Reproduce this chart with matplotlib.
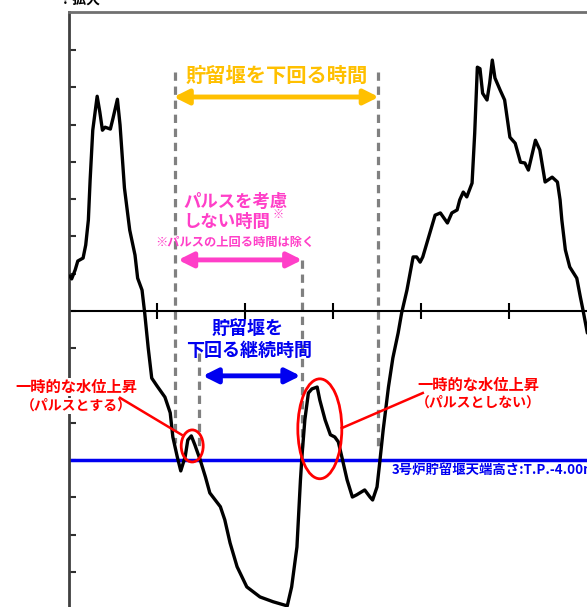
import matplotlib
matplotlib.use("Agg")
import matplotlib.pyplot as plt
from matplotlib.patches import Ellipse

plt.rcParams['font.family'] = ['Noto Sans CJK JP', 'DejaVu Sans']

# water level curve (time in axis units, level in T.P. m)
t = [0.01, 0.03, 0.07, 0.10, 0.16, 0.19, 0.22, 0.23, 0.24, 0.27, 0.32, 0.35, 0.38, 0.41,
     0.47, 0.50, 0.55, 0.58, 0.63, 0.69, 0.75, 0.78, 0.83, 0.86, 0.90, 0.94, 1.00, 1.09,
     1.15, 1.18, 1.23, 1.27, 1.32, 1.35, 1.39, 1.43, 1.49, 1.55, 1.60, 1.72, 1.77, 1.83,
     1.91, 2.02, 2.17, 2.32, 2.48, 2.53, 2.59, 2.63, 2.65, 2.68, 2.72, 2.76, 2.82, 2.85,
     2.91, 2.97, 3.02, 3.06, 3.10, 3.16, 3.22, 3.27, 3.36, 3.42, 3.45, 3.50, 3.53, 3.57,
     3.63, 3.68, 3.74, 3.78, 3.84, 3.91, 3.95, 3.99, 4.02, 4.10, 4.16, 4.22, 4.30, 4.35,
     4.41, 4.44, 4.48, 4.52, 4.58, 4.61, 4.64, 4.67, 4.70, 4.75, 4.78, 4.81, 4.84, 4.90,
     4.95, 5.01, 5.07, 5.13, 5.18, 5.22, 5.30, 5.35, 5.41, 5.49, 5.55, 5.58, 5.60, 5.64,
     5.69, 5.77, 5.81, 5.84, 5.89]
level = [0.94, 0.86, 1.10, 1.34, 1.42, 1.77, 2.44, 2.98, 3.51, 4.85, 5.76, 5.34, 4.85, 4.93,
         4.88, 5.17, 5.68, 4.99, 3.30, 2.17, 1.50, 0.88, 0.56, -0.05, -0.99, -1.80, -2.01, -2.31,
         -2.73, -3.38, -3.91, -4.29, -3.91, -3.46, -3.35, -3.59, -3.99, -4.45, -4.88, -5.25, -5.60, -6.22,
         -6.86, -7.40, -7.67, -7.80, -7.91, -7.40, -6.33, -4.53, -3.81, -2.92, -2.20, -2.09, -2.04, -2.39,
         -2.92, -3.32, -3.38, -3.51, -3.91, -4.53, -4.99, -4.93, -4.80, -4.99, -5.07, -4.72, -4.08, -3.19,
         -2.04, -1.26, -0.59, -0.05, 0.56, 1.45, 1.45, 1.31, 1.45, 2.09, 2.57, 2.63, 2.36, 2.63,
         2.71, 2.98, 3.19, 3.06, 3.43, 4.77, 6.54, 6.50, 5.84, 5.66, 6.11, 6.73, 6.25, 5.92,
         5.66, 4.66, 4.50, 3.99, 3.97, 3.78, 4.58, 4.32, 3.46, 3.59, 3.46, 2.98, 2.44, 1.64,
         1.18, 0.88, 0.38, 0.03, -0.59]

weir_level = -4.0
x_ticks = [1, 2, 3, 4, 5]
y_ticks = [-7, -6, -5, -4, -3, -2, -1, 0, 1, 2, 3, 4, 5, 6, 7]

# guide lines: x, y_top, y_bottom
guide_x = [1.205, 3.511, 1.477, 2.648]
guide_top = [6.41, 6.41, -1.13, 1.37]
guide_bottom = [-3.54, -3.73, -3.65, -3.65]

ORANGE = '#FFC000'
MAGENTA = '#FF3FC8'
BLUE = '#0000F0'
RED = '#FF0000'

fig = plt.figure(figsize=(5.87, 6.07), dpi=100)
ax = fig.add_axes([69/587, 0, 518/587, 595/607])
ax.set_xlim(0, 5.886)
ax.set_ylim(-7.94, 8.02)

for s in ['right', 'bottom']:
    ax.spines[s].set_visible(False)
ax.spines['left'].set_linewidth(2)
ax.spines['left'].set_color('#404040')
ax.spines['top'].set_linewidth(2)
ax.spines['top'].set_color('#707070')

ax.set_xticks([])
ax.set_yticks(y_ticks)
ax.set_yticklabels([])
ax.tick_params(axis='y', direction='in', length=5, width=1.5, color='#303030')

# zero line with ticks
ax.axhline(0, color='black', lw=1.5, zorder=2)
ax.plot(x_ticks, [0]*len(x_ticks), ls='none', marker='|', ms=11, mew=1.5, color='black', zorder=2)

# weir crest
ax.axhline(weir_level, color=BLUE, lw=2.5, zorder=2)
ax.text(3.67, -4.27, '3号炉貯留堰天端高さ:T.P.-4.00m', color=BLUE, fontsize=9.6,
        fontweight='bold', ha='left', va='center')

for gx, gt, gb in zip(guide_x, guide_top, guide_bottom):
    ax.plot([gx, gx], [gt, gb], color='#808080', lw=2.3, ls=(0, (2.6, 1.8)), zorder=1)

ax.plot(t, level, color='black', lw=2.4, solid_joinstyle='round', solid_capstyle='round', zorder=3)

def arrow(x0, x1, y, c):
    ax.annotate('', xy=(x1, y), xytext=(x0, y),
                arrowprops=dict(arrowstyle='<|-|>', color=c, lw=3.5, mutation_scale=22,
                                shrinkA=0, shrinkB=0), zorder=4)

arrow(1.19, 3.52, 5.74, ORANGE)
arrow(1.24, 2.65, 1.37, MAGENTA)
arrow(1.52, 2.63, -1.74, BLUE)

ax.text(2.36, 6.33, '貯留堰を下回る時間', color=ORANGE, fontsize=14.6, fontweight='bold',
        ha='center', va='center')
ax.text(1.89, 2.92, 'パルスを考慮', color=MAGENTA, fontsize=12.5, fontweight='bold',
        ha='center', va='center')
ax.text(1.79, 2.39, 'しない時間', color=MAGENTA, fontsize=12.5, fontweight='bold',
        ha='center', va='center')
ax.text(2.37, 2.60, '※', color=MAGENTA, fontsize=8, fontweight='bold', ha='center', va='center')
ax.text(1.89, 1.85, '※パルスの上回る時間は除く', color=MAGENTA, fontsize=8.8, fontweight='bold',
        ha='center', va='center')
ax.text(2.03, -0.46, '貯留堰を', color=BLUE, fontsize=13, fontweight='bold', ha='center', va='center')
ax.text(2.05, -1.05, '下回る継続時間', color=BLUE, fontsize=13, fontweight='bold',
        ha='center', va='center')

box = dict(facecolor='white', edgecolor='none', pad=0.5)
ax.text(0.08, -2.04, '一時的な水位上昇', color=RED, fontsize=11, fontweight='bold',
        ha='center', va='center', bbox=box, zorder=5)
ax.text(0.08, -2.55, '（パルスとする）', color=RED, fontsize=10, fontweight='bold',
        ha='center', va='center', bbox=box, zorder=5)
ax.text(4.65, -1.98, '一時的な水位上昇', color=RED, fontsize=11, fontweight='bold',
        ha='center', va='center')
ax.text(4.65, -2.47, '（パルスとしない）', color=RED, fontsize=10, fontweight='bold',
        ha='center', va='center')

ax.plot([0.58, 1.28], [-2.33, -3.32], color=RED, lw=1.8, zorder=5)
ax.plot([3.10, 4.02], [-3.14, -2.20], color=RED, lw=1.8, zorder=5)
ax.add_patch(Ellipse((1.40, -3.62), 0.25, 0.86, fill=False, edgecolor=RED, lw=2, zorder=5))
ax.add_patch(Ellipse((2.85, -3.16), 0.50, 2.68, fill=False, edgecolor=RED, lw=2, zorder=5))

fig.text(62/587, 1.0, '? 拡大', fontsize=10, fontweight='bold', ha='left', va='center')

fig.savefig('out.png', dpi=100)
